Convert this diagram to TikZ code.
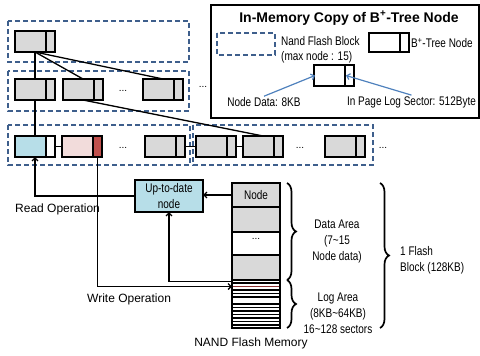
\documentclass[tikz,border=0pt]{standalone}
\usepackage{fontspec}
\setmainfont{Liberation Sans}
\newfontfamily\cond[FakeStretch=0.8]{Liberation Sans}
\usetikzlibrary{arrows.meta,decorations.pathreplacing}
\definecolor{dblue}{RGB}{62,95,140}
\definecolor{ngray}{RGB}{217,217,217}
\definecolor{lblue}{RGB}{183,222,232}
\definecolor{lpink}{RGB}{242,220,219}
\definecolor{nred}{RGB}{192,80,77}
\definecolor{lred}{RGB}{140,50,50}
\definecolor{ablue}{RGB}{79,129,189}
\tikzset{
  bbox/.style={rectangle, minimum width=40pt, inner sep=0pt, outer sep=0pt},
  bline/.style={line width=1.7pt, black},
  dbox/.style={draw=dblue, line width=1.6pt, dash pattern=on 5pt off 3pt},
  conn/.style={line width=1.3pt, black},
  arr/.style={line width=1.3pt, black, -{Straight Barb[length=3pt,width=6pt]}},
  barr/.style={line width=1.2pt, ablue, -{Straight Barb[length=3pt,width=6pt]}},
  ctext/.style={font=\cond\fontsize{12.5}{16}\selectfont, inner sep=1pt},
  ntext/.style={font=\fontsize{12}{15}\selectfont, inner sep=1pt},
  dots/.style={font=\fontsize{10}{12}\selectfont, inner sep=0pt},
  cell/.style={rectangle, draw, line width=1.7pt, minimum width=48pt, inner sep=0pt, outer sep=0pt, anchor=north west},
  bracestyle/.style={line width=1.7pt, decorate, decoration={brace, amplitude=9pt}}
}
\newcommand\bnode[5][21]{%
  \node[bbox, minimum height=#1pt, fill=#4, anchor=north west] (#2) at (#3) {};
  \fill[#5] ([xshift=-9pt]#2.north east) rectangle (#2.south east);
  \draw[bline] ([xshift=-9pt]#2.north east) -- ([xshift=-9pt]#2.south east);
  \draw[bline] (#2.north west) rectangle (#2.south east);
}
\begin{document}
\begin{tikzpicture}[x=1pt,y=-1pt]
\useasboundingbox (0,0) rectangle (480,356);

% dashed flash blocks
\draw[dbox] (8,21) rectangle (189,62);
\draw[dbox] (8,71) rectangle (189,111);
\draw[dbox] (8,125) rectangle (190,165);
\draw[dbox] (193,125) rectangle (373,165);

% legend
\draw[line width=1.7pt] (211,5) rectangle (479,118);
\node[font=\bfseries\fontsize{14}{16}\selectfont, inner sep=0pt] (title) at (349,18) {In-Memory Copy of B\textsuperscript{+}-Tree Node};
\draw[dbox] (217,33) rectangle (275,55);
\node[ctext, anchor=west, align=left, font=\cond\fontsize{12.5}{15}\selectfont] (lnfb) at (280,49.5) {Nand Flash Block\\(max node : 15)};
\bnode[19]{lbn}{369,33}{white}{white}
\node[ctext, anchor=west] (lbnt) at (410,43) {B\textsuperscript{+}-Tree Node};
\bnode{lm}{314,65}{white}{white}
\node[ctext] (ndl) at (264,102) {Node Data: 8KB};
\node[ctext] (lsl) at (411.5,102) {In Page Log Sector: 512Byte};
\draw[barr] (ndl.north) -- ([xshift=1pt]lm.west);
\draw[barr] (lsl.north) -- ([xshift=-8pt]lm.east);

% tree connectors
\draw[conn] (35,52) -- (35,79);
\draw[conn] (35,52) -- (83,79);
\draw[conn] (35,52) -- (163,79);
\draw[conn] (35,100) -- (35,136);
\draw[conn] (83,100) -- (263,136);
\draw[conn] (55,146.5) -- (62,146.5);
\draw[conn] (185,146.5) -- (196,146.5);
\draw[conn] (236,146.5) -- (243,146.5);

% tree nodes
\bnode{top}{15,31}{ngray}{ngray}
\bnode{r2a}{15,79}{ngray}{ngray}
\bnode{r2b}{63,79}{ngray}{ngray}
\bnode{r2c}{143,79}{ngray}{ngray}
\bnode{r3a}{15,136}{lblue}{white}
\bnode{r3b}{62,136}{lpink}{nred}
\bnode{r3c}{145,136}{ngray}{ngray}
\bnode{r3d}{196,136}{ngray}{ngray}
\bnode{r3e}{243,136}{ngray}{ngray}
\bnode{r3f}{325,136}{ngray}{ngray}

\node[dots] (d1) at (123,91) {...};
\node[dots] (d2) at (203,87) {...};
\node[dots] (d3) at (123,148) {...};
\node[dots] (d4) at (300,148) {...};
\node[dots] (d5) at (383,148) {...};

% flash memory column
\node[cell, fill=ngray, minimum height=24pt, font=\cond\fontsize{12.5}{14}\selectfont] (fnode) at (232,183) {Node};
\node[cell, fill=ngray, minimum height=25pt] (f2) at (232,207) {};
\node[cell, fill=white, minimum height=23pt] (f3) at (232,232) {};
\node[cell, fill=ngray, minimum height=25pt] (f4) at (232,255) {};
\node[cell, fill=white, minimum height=48pt] (log) at (232,280) {};
\node[dots] (d6) at (256,239) {...};
\foreach \yy in {283,290,293.5,297,304,307.5,311,314.5,318,321.5,325}
  \draw[line width=1.7pt] (232,\yy) -- (280,\yy);
\draw[line width=1.8pt, lred] (233,286.5) -- (279,286.5);

% up-to-date node
\node[rectangle, draw, line width=1.7pt, fill=lblue, minimum width=68pt, minimum height=32pt, inner sep=0pt, outer sep=0pt, align=center, font=\cond\fontsize{12.5}{16}\selectfont] (up) at (169,196) {Up-to-date\\node};

% operations
\draw[arr] (up.west) -| (r3a.south);
\draw[arr] ([xshift=-4.5pt]r3b.south east) |- ([yshift=-6.5pt]log.north west);
\draw[arr] ([yshift=-1.5pt]log.north west) -| (up.south);
\draw[arr] (fnode.west) -- (fnode.west -| up.east);

\node[ntext, anchor=west] (rop) at (14,209) {Read Operation};
\node[ntext, anchor=west] (wop) at (86,299) {Write Operation};
\node[ntext] (nfm) at (251,343) {NAND Flash Memory};

% braces
\draw[bracestyle] (287,183) -- (287,280);
\draw[bracestyle] (287,280) -- (287,328);
\draw[bracestyle] (380,183) -- (380,328);
\node[ctext, align=center] (da) at (337,241) {Data Area\\(7\textasciitilde15\\Node data)};
\node[ctext, align=center] (la) at (338,313) {Log Area\\(8KB\textasciitilde64KB)\\16\textasciitilde128 sectors};
\node[ctext, align=left, anchor=west] (fb) at (399,260) {1 Flash\\Block (128KB)};
\end{tikzpicture}
\end{document}
